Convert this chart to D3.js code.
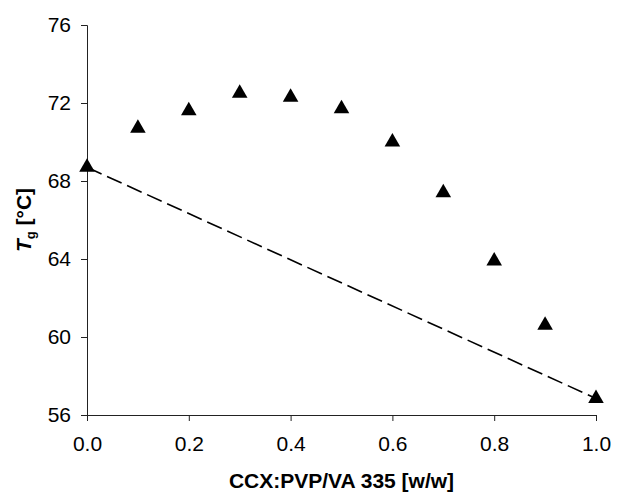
<!DOCTYPE html>
<html>
<head>
<meta charset="utf-8">
<script src="https://cdn.jsdelivr.net/npm/d3@7"></script>
<style>
  body { margin: 0; background: #fff; }
  text { font-family: "Liberation Sans", Arial, sans-serif; fill: #000; }
</style>
</head>
<body>
<svg id="chart" width="631" height="493"></svg>
<script>
// measured Tg vs CCX fraction
var ratio = [0.0, 0.1, 0.2, 0.3, 0.4, 0.5, 0.6, 0.7, 0.8, 0.9, 1.0];
var tg = [68.7, 70.7, 71.6, 72.5, 72.3, 71.7, 70.0, 67.4, 63.9, 60.6, 56.85];
// ideal mixing line, endpoints only
var idealX = [0.0, 1.0];
var idealY = [68.7, 56.85];
var xTicks = [0, 0.2, 0.4, 0.6, 0.8, 1.0];
var yTicks = [56, 60, 64, 68, 72, 76];

var svg = d3.select("#chart"),
    margin = {top: 25, right: 35, bottom: 78, left: 87},
    width = +svg.attr("width"),
    height = +svg.attr("height");

var x = d3.scaleLinear()
    .domain([0, 1])
    .range([margin.left, width - margin.right]);

var y = d3.scaleLinear()
    .domain([56, 76])
    .range([height - margin.bottom, margin.top]);

// x axis
var xAxis = svg.append("g")
    .attr("transform", "translate(0," + y(56) + ")")
    .call(d3.axisBottom(x).tickValues(xTicks).tickFormat(d3.format(".1f")).tickSizeOuter(0).tickSize(6).tickPadding(15));
xAxis.select(".domain").attr("stroke", "#222");
xAxis.selectAll(".tick line").attr("stroke", "#222");
xAxis.selectAll("text").style("font-size", "21px").attr("fill", "#000");

// y axis
var yAxis = svg.append("g")
    .attr("transform", "translate(" + x(0) + ",0)")
    .call(d3.axisLeft(y).tickValues(yTicks).tickSizeOuter(0).tickSize(6).tickPadding(10));
yAxis.select(".domain").attr("stroke", "#222");
yAxis.selectAll(".tick line").attr("stroke", "#222");
yAxis.selectAll("text").style("font-size", "21px").attr("fill", "#000");

// dashed ideal line
var line = d3.line()
    .x(function(d) { return x(d[0]); })
    .y(function(d) { return y(d[1]); });

svg.append("path")
    .datum(d3.zip(idealX, idealY))
    .attr("d", line)
    .attr("fill", "none")
    .attr("stroke", "#000")
    .attr("stroke-width", 1.6)
    .attr("stroke-dasharray", "16,6");

// triangles
var tri = d3.symbol().type(d3.symbolTriangle).size(105);
svg.selectAll(".pt")
    .data(d3.zip(ratio, tg))
    .enter().append("path")
    .attr("class", "pt")
    .attr("d", tri)
    .attr("transform", function(d) { return "translate(" + x(d[0]) + "," + y(d[1]) + ")"; })
    .attr("fill", "#000");

// axis titles
svg.append("text")
    .attr("x", (x(0) + x(1)) / 2)
    .attr("y", 488)
    .attr("text-anchor", "middle")
    .style("font-size", "21px")
    .style("font-weight", "bold")
    .text("CCX:PVP/VA 335 [w/w]");

var yt = svg.append("text")
    .attr("transform", "translate(31,220) rotate(-90)")
    .attr("text-anchor", "middle")
    .style("font-size", "21px")
    .style("font-weight", "bold");
yt.append("tspan").style("font-style", "italic").text("T");
yt.append("tspan").attr("dy", 4).style("font-size", "13px").text("g");
yt.append("tspan").attr("dy", -4).text(" [°C]");
</script>
</body>
</html>
